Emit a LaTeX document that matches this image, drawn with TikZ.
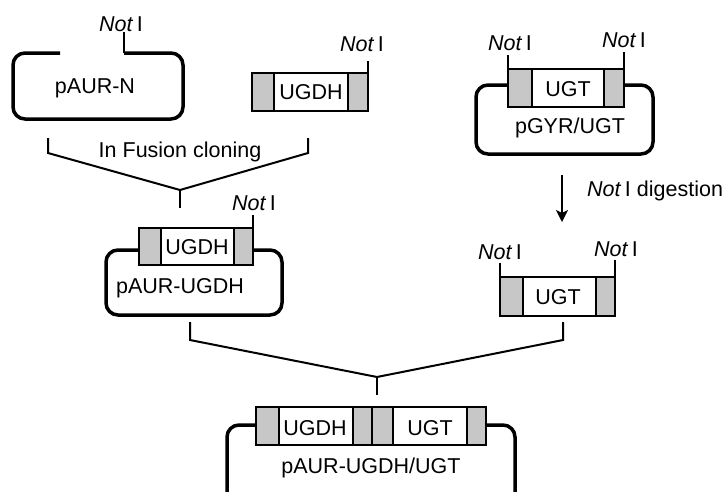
\documentclass[tikz,border=0pt]{standalone}
\usepackage{fontspec}
\setmainfont{Liberation Sans}
\usetikzlibrary{arrows.meta}
\tikzset{
  plasmid/.style={line width=3.5pt, rounded corners=12pt, line cap=butt},
  seg/.style={draw, line width=2pt},
  grayseg/.style={seg, fill=black!22},
  whiteseg/.style={seg, fill=white},
  tickline/.style={line width=2pt},
  link/.style={line width=2pt, line join=miter},
  lbl/.style={font=\fontsize{21.5}{25}\selectfont, inner sep=0pt},
}
\newcommand\NotI{\textit{Not}\,I}
\begin{document}
\begin{tikzpicture}[x=1pt,y=-1pt]
\useasboundingbox (0,0) rectangle (723,491);
\clip (0,0) rectangle (723,491);

% ---------- pAUR-N ----------
\draw[plasmid] (60,53) -- (13,53) -- (13,119) -- (183,119) -- (183,53) -- (124,53);
\coordinate (nN) at (124,53);
\coordinate (nNt) at (124,32);
\draw[tickline] (nN) -- (nNt);
\node[lbl] (lNotA) at (121,24) {\NotI};
\node[lbl] (pAURN) at (95,88) {pAUR-N};

% ---------- UGDH fragment ----------
\draw[grayseg] (252,73) rectangle (274,111);
\draw[grayseg] (348,73) rectangle (368,111);
\draw[whiteseg] (274,73) rectangle (348,111);
\node[lbl] (UGDHa) at (311,92) {UGDH};
\coordinate (nU) at (368,73);
\coordinate (nUt) at (368,61);
\draw[tickline] (nU) -- (nUt);
\node[lbl] (lNotB) at (362,44) {\NotI};

% ---------- top bracket ----------
\coordinate (b1a) at (48,138);
\coordinate (b1b) at (48,153);
\coordinate (b1j) at (180,190);
\coordinate (b1c) at (308,153);
\coordinate (b1d) at (308,138);
\coordinate (b1e) at (180,208);
\draw[link] (b1a) -- (b1b) -- (b1j) -- (b1c) -- (b1d);
\draw[link] (b1j) -- (b1e);
\node[lbl] (fusion) at (180,152) {In Fusion cloning};

% ---------- pGYR/UGT ----------
\draw[plasmid] (508,85) -- (476,85) -- (476,154) -- (653,154) -- (653,85) -- (624,85);
\draw[grayseg] (508,69) rectangle (532,107);
\draw[grayseg] (604,69) rectangle (624,107);
\draw[whiteseg] (532,69) rectangle (604,107);
\node[lbl] (UGTa) at (568,89) {UGT};
\node[lbl] (pGYR) at (570,128) {pGYR/UGT};
\coordinate (gL) at (508,69);
\coordinate (gLt) at (508,55);
\coordinate (gR) at (624,69);
\coordinate (gRt) at (624,52);
\draw[tickline] (gL) -- (gLt);
\draw[tickline] (gR) -- (gRt);
\node[lbl] (lNotC) at (510,43) {\NotI};
\node[lbl] (lNotD) at (624,40) {\NotI};

% ---------- digestion arrow ----------
\coordinate (arA) at (562,175);
\coordinate (arB) at (562,222);
\draw[line width=2pt, -{Stealth[length=12pt,width=12pt,inset=3pt]}] (arA) -- (arB);
\node[lbl, anchor=west] (digest) at (587,191) {\NotI{} digestion};

% ---------- pAUR-UGDH ----------
\draw[plasmid] (139,250) -- (106,250) -- (106,315) -- (282,315) -- (282,250) -- (253,250);
\draw[grayseg] (139,228) rectangle (161,265);
\draw[grayseg] (234,228) rectangle (253,265);
\draw[whiteseg] (161,228) rectangle (234,265);
\node[lbl] (UGDHb) at (197,247) {UGDH};
\node[lbl] (pAURUGDH) at (180,288) {pAUR-UGDH};
\coordinate (mU) at (253,228);
\coordinate (mUt) at (253,215);
\draw[tickline] (mU) -- (mUt);
\node[lbl] (lNotE) at (254,203) {\NotI};

% ---------- UGT fragment ----------
\draw[grayseg] (500,277) rectangle (523,316);
\draw[grayseg] (596,277) rectangle (615,316);
\draw[whiteseg] (523,277) rectangle (596,316);
\node[lbl] (UGTb) at (558,297) {UGT};
\coordinate (fL) at (500,277);
\coordinate (fLt) at (500,263);
\coordinate (fR) at (615,277);
\coordinate (fRt) at (615,260);
\draw[tickline] (fL) -- (fLt);
\draw[tickline] (fR) -- (fRt);
\node[lbl] (lNotF) at (500,252) {\NotI};
\node[lbl] (lNotG) at (616,249) {\NotI};

% ---------- bottom bracket ----------
\coordinate (b2a) at (190,322);
\coordinate (b2b) at (190,340);
\coordinate (b2j) at (377,377);
\coordinate (b2c) at (563,340);
\coordinate (b2d) at (563,322);
\coordinate (b2e) at (377,395);
\draw[link] (b2a) -- (b2b) -- (b2j) -- (b2c) -- (b2d);
\draw[link] (b2j) -- (b2e);

% ---------- pAUR-UGDH/UGT ----------
\draw[plasmid] (256,425) -- (227,425) -- (227,520);
\draw[plasmid] (486,425) -- (515,425) -- (515,520);
\draw[grayseg] (256,407) rectangle (279,445);
\draw[whiteseg] (279,407) rectangle (353,445);
\draw[grayseg] (353,407) rectangle (372,445);
\draw[grayseg] (372,407) rectangle (393,445);
\draw[whiteseg] (393,407) rectangle (467,445);
\draw[grayseg] (467,407) rectangle (486,445);
\node[lbl] (UGDHc) at (315,428) {UGDH};
\node[lbl] (UGTc) at (430,428) {UGT};
\node[lbl] (final) at (371,468) {pAUR-UGDH/UGT};
\end{tikzpicture}
\end{document}
